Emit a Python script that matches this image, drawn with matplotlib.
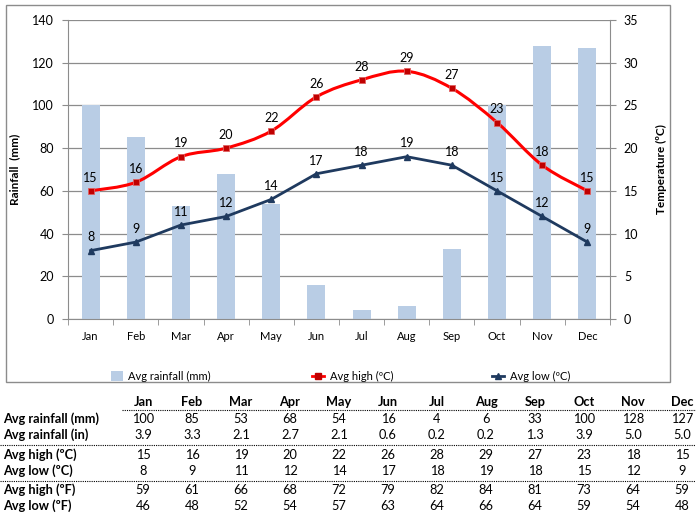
import numpy as np
import matplotlib
matplotlib.use("Agg")
import matplotlib.pyplot as plt
from matplotlib.path import Path
from matplotlib.patches import PathPatch, Patch, Rectangle
from matplotlib.lines import Line2D

plt.rcParams['font.family'] = ['Lato', 'DejaVu Sans']

months = ['Jan', 'Feb', 'Mar', 'Apr', 'May', 'Jun', 'Jul', 'Aug', 'Sep', 'Oct', 'Nov', 'Dec']
rain_mm = [100, 85, 53, 68, 54, 16, 4, 6, 33, 100, 128, 127]
rain_in = ['3.9', '3.3', '2.1', '2.7', '2.1', '0.6', '0.2', '0.2', '1.3', '3.9', '5.0', '5.0']
high_c = [15, 16, 19, 20, 22, 26, 28, 29, 27, 23, 18, 15]
low_c = [8, 9, 11, 12, 14, 17, 18, 19, 18, 15, 12, 9]
high_f = [59, 61, 66, 68, 72, 79, 82, 84, 81, 73, 64, 59]
low_f = [46, 48, 52, 54, 57, 63, 64, 66, 64, 59, 54, 48]

bar_color = '#B9CDE5'
high_color = '#FF0000'
high_marker = '#C00000'
low_color = '#1F3A5F'
grid_color = '#8C8C8C'

W, H = 696, 514
fig = plt.figure(figsize=(W / 100, H / 100), dpi=100)

# outer chart frame
fig.patches.append(Rectangle((6 / W, 1 - 382 / H), (670 - 6) / W, (382 - 5) / H,
                             transform=fig.transFigure, fill=False,
                             edgecolor='#8C8C8C', linewidth=1))

ax = fig.add_axes([68 / W, 1 - 319 / H, (610 - 68) / W, (319 - 20) / H])
x = np.arange(len(months))
ax.bar(x, rain_mm, width=0.4, color=bar_color, zorder=2)
ax.set_xlim(-0.5, len(months) - 0.5)
ax.set_ylim(0, 140)
ax.set_yticks(range(0, 141, 20))
ax.yaxis.grid(True, color=grid_color, linewidth=0.9)
ax.set_axisbelow(True)
ax.set_xticks(x)
ax.set_xticklabels(months, fontsize=8)
ax.set_xticks(np.arange(-0.5, len(months)), minor=True)
ax.tick_params(axis='x', which='major', length=0, pad=9)
ax.tick_params(axis='x', which='minor', length=4, color=grid_color)
ax.tick_params(axis='y', length=4, color=grid_color, labelsize=9, pad=6)
for s in ['top', 'right']:
    ax.spines[s].set_visible(False)
for s in ['left', 'bottom']:
    ax.spines[s].set_color(grid_color)
ax.set_ylabel('Rainfall  (mm)', fontsize=8.5, fontweight='bold', labelpad=9)

ax2 = ax.twinx()
ax2.set_ylim(0, 35)
ax2.set_yticks(range(0, 36, 5))
ax2.tick_params(axis='y', length=4, color=grid_color, labelsize=9, pad=6)
for s in ['top', 'left', 'bottom']:
    ax2.spines[s].set_visible(False)
ax2.spines['right'].set_color(grid_color)
ax2.set_ylabel('Temperature (ºC)', fontsize=8.5, fontweight='bold', labelpad=13)


def smooth_path(xs, ys):
    n = len(xs)
    verts = [(xs[0], ys[0])]
    codes = [Path.MOVETO]
    for i in range(n - 1):
        a = max(i - 1, 0)
        b = min(i + 2, n - 1)
        c1 = (xs[i] + (xs[i + 1] - xs[a]) / 6, ys[i] + (ys[i + 1] - ys[a]) / 6)
        c2 = (xs[i + 1] - (xs[b] - xs[i]) / 6, ys[i + 1] - (ys[b] - ys[i]) / 6)
        verts += [c1, c2, (xs[i + 1], ys[i + 1])]
        codes += [Path.CURVE4] * 3
    return Path(verts, codes)


ax2.add_patch(PathPatch(smooth_path(x, high_c), facecolor='none',
                        edgecolor=high_color, linewidth=2.2, zorder=3))
ax2.plot(x, high_c, linestyle='none', marker='s', markersize=4.5,
         markerfacecolor=high_marker, markeredgecolor='#E06060',
         markeredgewidth=0.6, zorder=4)
ax2.plot(x, low_c, color=low_color, linewidth=2, marker='^', markersize=4,
         markerfacecolor=low_color, zorder=3)

for xi, v in zip(x, high_c):
    ax2.annotate(str(v), (xi, v), xytext=(0, 9.5), textcoords='offset points',
                 ha='center', va='center', fontsize=9, zorder=5)
for xi, v in zip(x, low_c):
    ax2.annotate(str(v), (xi, v), xytext=(0, 9.5), textcoords='offset points',
                 ha='center', va='center', fontsize=9, zorder=5)

# legend, three separate entries laid out like the original
leg_y = 1 - 376 / H
entries = [
    (Patch(facecolor=bar_color, edgecolor='none'), 'Avg rainfall (mm)', 111),
    (Line2D([], [], color=high_color, linewidth=2, marker='s', markersize=5,
            markerfacecolor=high_marker, markeredgecolor=high_marker), 'Avg high (ºC)', 312),
    (Line2D([], [], color=low_color, linewidth=2, marker='^', markersize=5,
            markerfacecolor=low_color), 'Avg low (ºC)', 492),
]
for handle, label, px in entries:
    is_patch = isinstance(handle, Patch)
    leg = fig.legend([handle], [label], loc='center left',
                     bbox_to_anchor=(px / W, leg_y), frameon=False,
                     fontsize=8, borderpad=0, borderaxespad=0,
                     handlelength=1.05 if is_patch else 1.1,
                     handleheight=1.05 if is_patch else 0.7,
                     handletextpad=0.5)

# data table below the chart
col_x = np.linspace(143, 682, len(months))
row_y = [419, 435, 455, 471, 490, 506]
head_y = 402
fs = 9.2
for cx, m in zip(col_x, months):
    fig.text(cx / W, 1 - head_y / H, m, ha='center', va='center',
             fontsize=fs, fontweight='bold')

rows = [
    ('Avg rainfall (mm)', rain_mm),
    ('Avg rainfall (in)', rain_in),
    ('Avg high (ºC)', high_c),
    ('Avg low (ºC)', low_c),
    ('Avg high (ºF)', high_f),
    ('Avg low (ºF)', low_f),
]
for (label, vals), ry in zip(rows, row_y):
    fig.text(3 / W, 1 - ry / H, label, ha='left', va='center',
             fontsize=fs, fontweight='bold')
    for cx, v in zip(col_x, vals):
        fig.text(cx / W, 1 - ry / H, str(v), ha='center', va='center', fontsize=fs)

for x0, yy in [(122, 410), (0, 445), (0, 481)]:
    fig.add_artist(Line2D([x0 / W, 1], [1 - yy / H, 1 - yy / H],
                          transform=fig.transFigure, color='black',
                          linestyle=(0, (1, 1)), linewidth=0.8))

fig.savefig('out.png', dpi=100)
